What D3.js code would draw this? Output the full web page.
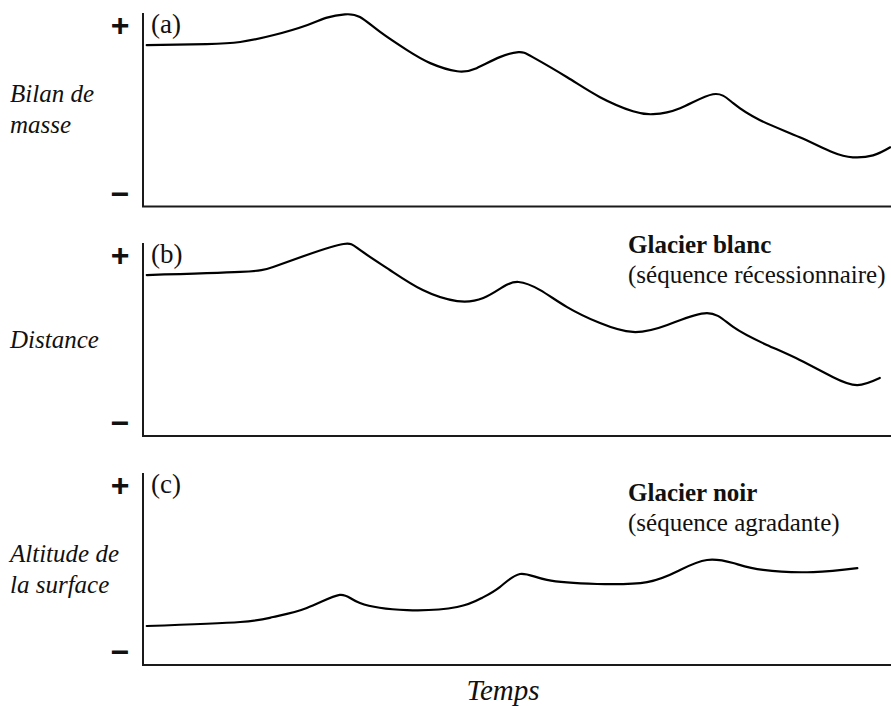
<!DOCTYPE html>
<html>
<head>
<meta charset="utf-8">
<script src="https://cdn.jsdelivr.net/npm/d3@7"></script>
<style>
  html, body { margin: 0; padding: 0; background: #fff; }
  svg { display: block; }
</style>
</head>
<body>
<svg id="chart" width="891" height="706"></svg>
<script>
// ---- Data (time in arbitrary units 0–100, values 0 = "−", 100 = "+") ----
const timeA = [0.5, 8.5, 13, 17.5, 22, 24.6, 27, 29, 31.7, 35.3, 38.4, 42, 44.6, 47.7, 50.2, 52.1, 56.7, 61.1, 65.5, 68.2, 71.8, 76.2, 78.9, 82.5, 87.8, 92.2, 94.9, 97.6, 99.9];
const massBalance = [83.4, 83.9, 85.0, 88.6, 93.8, 97.6, 99.3, 97.9, 90.2, 80.8, 74.1, 69.9, 71.5, 77.2, 79.8, 77.2, 66.8, 56.5, 49.2, 47.7, 50.8, 58.0, 53.4, 44.6, 35.8, 28.0, 25.4, 26.4, 30.6];

const timeB = [0.5, 13, 17.4, 21.9, 26.8, 29, 33, 37.4, 42, 45.5, 48.1, 50.2, 53.1, 56.7, 61.1, 65.5, 70.1, 75.4, 78.9, 83.4, 87.8, 92.2, 95.5, 98.5];
const distance = [83.4, 85.0, 87.6, 93.8, 99.5, 96.4, 86.0, 75.6, 69.9, 71.5, 77.2, 79.8, 75.6, 66.8, 58.5, 53.9, 57.5, 63.7, 56.5, 47.2, 39.4, 30.6, 26.4, 30.1];

const timeC = [0.5, 13, 17.4, 21.9, 26.3, 29, 35.3, 42, 45.3, 47.7, 50.4, 54, 60.7, 67.4, 71.8, 75.4, 78.9, 82.9, 89.6, 95.5];
const surfaceAltitude = [20.3, 22.4, 25.0, 29.7, 36.5, 32.3, 28.6, 30.2, 34.9, 40.6, 47.4, 44.3, 42.2, 43.2, 49.5, 54.7, 53.1, 49.5, 48.4, 50.5];

const panelTags = ["(a)", "(b)", "(c)"];
const yLabels = [["Bilan de", "masse"], ["Distance"], ["Altitude de", "la surface"]];
const plusLabel = "+";
const minusLabel = "\u2212";
const xLabel = "Temps";
const legendB = ["Glacier blanc", "(séquence récessionnaire)"];
const legendC = ["Glacier noir", "(séquence agradante)"];

// ---- Layout ----
const svg = d3.select("#chart");
const W = 891;
const axisX = 143;
const panels = [
  { top: 13, bottom: 206.5, t: timeA, v: massBalance },
  { top: 243, bottom: 436, t: timeB, v: distance },
  { top: 473, bottom: 665, t: timeC, v: surfaceAltitude }
];

const x = d3.scaleLinear().domain([0, 100]).range([axisX, 891]);
const serif = "'Liberation Serif', 'Times New Roman', serif";
const sans = "'Liberation Sans', Arial, sans-serif";

panels.forEach((p, i) => {
  const y = d3.scaleLinear().domain([0, 100]).range([p.bottom, p.top]);
  const g = svg.append("g");

  // L-shaped axes
  g.append("line")
    .attr("x1", axisX).attr("x2", axisX)
    .attr("y1", p.top).attr("y2", p.bottom)
    .attr("stroke", "#1a1a1a").attr("stroke-width", 2);
  g.append("line")
    .attr("x1", axisX - 1).attr("x2", W)
    .attr("y1", p.bottom).attr("y2", p.bottom)
    .attr("stroke", "#1a1a1a").attr("stroke-width", 2);

  // + and − markers
  g.append("text")
    .attr("x", 120).attr("y", y(100) + 12)
    .attr("text-anchor", "middle").attr("dominant-baseline", "central")
    .attr("font-family", sans).attr("font-weight", "bold").attr("font-size", 32)
    .attr("fill", "#111")
    .text(plusLabel);
  g.append("text")
    .attr("x", 120).attr("y", y(0) - 13)
    .attr("text-anchor", "middle").attr("dominant-baseline", "central")
    .attr("font-family", sans).attr("font-weight", "bold").attr("font-size", 32)
    .attr("fill", "#111")
    .text(minusLabel);

  // panel tag
  g.append("text")
    .attr("x", 151).attr("y", p.top + 20)
    .attr("font-family", serif).attr("font-size", 27)
    .attr("fill", "#111")
    .text(panelTags[i]);

  // y label
  const lines = yLabels[i];
  const mid = (p.top + p.bottom) / 2;
  const lh = 31;
  const startY = mid + 8 - (lines.length - 1) * lh / 2;
  const lab = g.append("text")
    .attr("font-family", serif).attr("font-style", "italic").attr("font-size", 25)
    .attr("fill", "#111");
  lines.forEach((ln, k) => {
    lab.append("tspan").attr("x", 10).attr("y", startY + k * lh).text(ln);
  });

  // curve
  const data = p.t.map((t, k) => [t, p.v[k]]);
  const line = d3.line()
    .x(d => x(d[0]))
    .y(d => y(d[1]))
    .curve(d3.curveNatural);
  g.append("path")
    .datum(data)
    .attr("d", line)
    .attr("fill", "none")
    .attr("stroke", "#000")
    .attr("stroke-width", 2.2)
    .attr("stroke-linecap", "round");
});

// legends
function legend(lines, yTop) {
  const t = svg.append("text")
    .attr("font-family", serif).attr("font-size", 25).attr("fill", "#111");
  t.append("tspan").attr("x", 628).attr("y", yTop).attr("font-weight", "bold").text(lines[0]);
  t.append("tspan").attr("x", 628).attr("y", yTop + 30).text(lines[1]);
}
legend(legendB, 253);
legend(legendC, 501);

// x label
svg.append("text")
  .attr("x", 503).attr("y", 700)
  .attr("text-anchor", "middle")
  .attr("font-family", serif).attr("font-style", "italic").attr("font-size", 29)
  .attr("fill", "#111")
  .text(xLabel);
</script>
</body>
</html>
